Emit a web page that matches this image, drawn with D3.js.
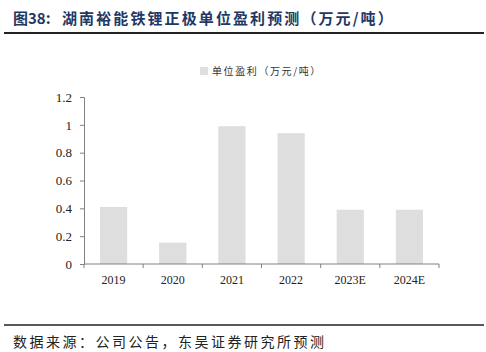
<!DOCTYPE html>
<html>
<head>
<meta charset="utf-8">
<script src="https://cdn.jsdelivr.net/npm/d3@7"></script>
<style>
  body { margin: 0; background: #fff; }
  svg { display: block; }
</style>
</head>
<body>
<div id="chart"></div>
<script>
var categories = ['2019', '2020', '2021', '2022', '2023E', '2024E'];
var values = [0.41, 0.154, 0.99, 0.94, 0.39, 0.39];
var yTicks = [0, 0.2, 0.4, 0.6, 0.8, 1, 1.2];
var seriesName = '单位盈利（万元/吨）';

var width = 486,
	height = 352;
var plot = {left: 84, right: 439, top: 97, bottom: 264};
var cjk = '"Noto Sans CJK SC", sans-serif';

var svg = d3.select('#chart')
		.append('svg')
		.attr('width', width)
		.attr('height', height)

// title
svg.append('text')
	.attr('x', 13)
	.attr('y', 24)
	.attr('fill', '#1f3864')
	.attr('font-family', cjk)
	.attr('font-weight', 'bold')
	.attr('font-size', 15)
	.text('图38:')

svg.append('text')
	.attr('x', 62)
	.attr('y', 24)
	.attr('fill', '#1f3864')
	.attr('font-family', cjk)
	.attr('font-weight', 'bold')
	.attr('font-size', 15)
	.attr('letter-spacing', 2.1)
	.text('湖南裕能铁锂正极单位盈利预测（万元/吨）')

svg.append('line')
	.attr('x1', 4).attr('x2', 484)
	.attr('y1', 33).attr('y2', 33)
	.attr('stroke', '#222')
	.attr('stroke-width', 2)

svg.append('line')
	.attr('x1', 4).attr('x2', 484)
	.attr('y1', 325).attr('y2', 325)
	.attr('stroke', '#222')
	.attr('stroke-width', 1.5)

svg.append('text')
	.attr('x', 13)
	.attr('y', 347)
	.attr('fill', '#222')
	.attr('font-family', cjk)
	.attr('font-size', 14)
	.attr('letter-spacing', 2.5)
	.text('数据来源：公司公告，东吴证券研究所预测')

var x = d3.scaleBand()
		.domain(categories)
		.range([plot.left, plot.right])
		.paddingInner(0.54)
		.paddingOuter(0.27)

var y = d3.scaleLinear()
		.domain([0, 1.2])
		.range([plot.bottom, plot.top])

// bars
svg.selectAll('.bar')
	.data(values)
	.enter()
	.append('rect')
	.attr('class', 'bar')
	.attr('x', (d, i) => x(categories[i]))
	.attr('y', d => y(d))
	.attr('width', x.bandwidth())
	.attr('height', d => y(0) - y(d))
	.attr('fill', '#dedede')

// y axis
var yAxis = d3.axisLeft(y)
		.tickValues(yTicks)
		.tickFormat(d => d3.format('')(d))
		.tickSize(4)
		.tickPadding(8)

var gy = svg.append('g')
	.attr('transform', `translate(${plot.left}, 0)`)
	.call(yAxis)

// x axis, ticks on category boundaries
var gx = svg.append('g')
	.attr('transform', `translate(0, ${plot.bottom})`)

gx.append('line')
	.attr('x1', plot.left).attr('x2', plot.right)
	.attr('stroke', '#808080')

var step = (plot.right - plot.left) / categories.length;
gx.selectAll('.tk')
	.data(d3.range(categories.length + 1))
	.enter()
	.append('line')
	.attr('x1', i => plot.left + i * step)
	.attr('x2', i => plot.left + i * step)
	.attr('y1', 0).attr('y2', 4)
	.attr('stroke', '#808080')

gx.selectAll('.lbl')
	.data(categories)
	.enter()
	.append('text')
	.attr('x', d => x(d) + x.bandwidth() / 2)
	.attr('y', 20)
	.attr('text-anchor', 'middle')
	.attr('fill', '#222')
	.attr('font-family', '"Liberation Serif", serif')
	.attr('font-size', 12)
	.text(d => d)

gy.select('.domain').attr('stroke', '#808080')
gy.selectAll('.tick line').attr('stroke', '#808080')
gy.selectAll('.tick text')
	.attr('fill', '#222')
	.attr('font-family', '"Liberation Serif", serif')
	.attr('font-size', 13)

// legend
var legend = svg.append('g').attr('transform', 'translate(200, 67)')
legend.append('rect')
	.attr('width', 8).attr('height', 8)
	.attr('fill', '#dedede')
legend.append('text')
	.attr('x', 12)
	.attr('y', 8)
	.attr('fill', '#333')
	.attr('font-family', cjk)
	.attr('font-size', 10)
	.attr('letter-spacing', 1.6)
	.text(seriesName)
</script>
</body>
</html>
